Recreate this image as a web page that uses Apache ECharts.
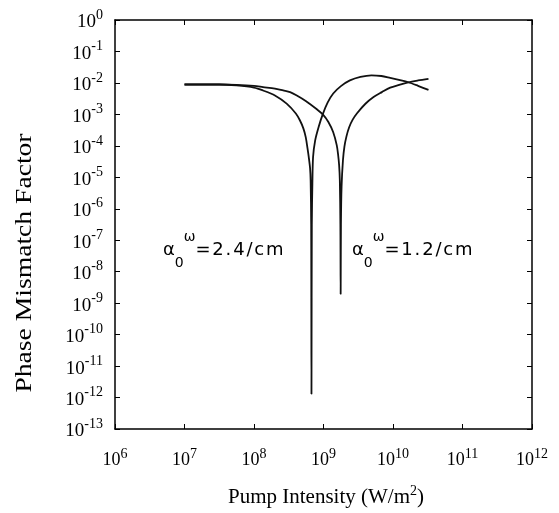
<!DOCTYPE html>
<html>
<head>
<meta charset="utf-8">
<script src="https://cdn.jsdelivr.net/npm/echarts@6/dist/echarts.min.js"></script>
<style>
  html, body { margin: 0; padding: 0; background: #fff; }
  #chart { width: 559px; height: 513px; }
</style>
</head>
<body>
<div id="chart"></div>
<script>
// Pump intensity (W/m^2) and phase mismatch factor for alpha0 = 2.4/cm
const intensityA = [1.0e7, 3.16e7, 5.6e7, 1.0e8, 1.35e8, 2.0e8, 2.95e8, 4.0e8, 4.57e8, 5.13e8,
  5.56e8, 5.89e8, 6.17e8, 6.41e8, 6.53e8, 6.65e8, 6.714e8, 6.79e8, 6.92e8, 7.08e8, 7.59e8,
  8.51e8, 9.77e8, 1.15e9, 1.38e9, 1.78e9, 2.4e9, 3.4e9, 4.9e9, 6.8e9, 9.1e9, 1.26e10,
  1.66e10, 2.29e10, 3.24e10];
const mismatchA = [8.9e-3, 8.9e-3, 8.3e-3, 7.1e-3, 5.75e-3, 4.0e-3, 2.2e-3, 1.07e-3, 6.5e-4, 3.6e-4,
  1.86e-4, 8.3e-5, 4.0e-5, 1.95e-5, 7.9e-6, 3.2e-7, 1.3e-12, 3.2e-7, 6.3e-6, 4.4e-5, 1.5e-4,
  4.0e-4, 1.02e-3, 2.4e-3, 4.6e-3, 7.9e-3, 1.2e-2, 1.55e-2, 1.74e-2, 1.66e-2, 1.45e-2, 1.23e-2,
  1.05e-2, 8.1e-3, 6.0e-3];

// Same quantities for alpha0 = 1.2/cm
const intensityB = [1.0e7, 3.16e7, 5.6e7, 1.0e8, 1.35e8, 2.0e8, 2.63e8, 3.31e8, 4.07e8, 5.62e8,
  7.94e8, 9.77e8, 1.175e9, 1.38e9, 1.55e9, 1.62e9, 1.679e9, 1.718e9, 1.750e9, 1.766e9, 1.782e9,
  1.82e9, 1.905e9, 2.0e9, 2.14e9, 2.34e9, 2.63e9, 3.02e9, 3.98e9, 5.25e9, 6.92e9, 9.12e9,
  1.23e10, 1.66e10, 2.29e10, 3.24e10];
const mismatchB = [8.9e-3, 8.9e-3, 8.7e-3, 8.1e-3, 7.4e-3, 6.6e-3, 5.75e-3, 5.1e-3, 4.07e-3, 2.63e-3,
  1.48e-3, 1.0e-3, 5.75e-4, 2.7e-4, 1.05e-4, 5.4e-5, 2.4e-5, 7.9e-6, 3.2e-7, 1.95e-9, 3.2e-7,
  5.0e-6, 3.47e-5, 9.5e-5, 2.0e-4, 3.9e-4, 6.8e-4, 1.07e-3, 2.14e-3, 3.55e-3, 5.1e-3, 7.1e-3,
  8.7e-3, 1.05e-2, 1.2e-2, 1.35e-2];

// Decade tick exponents
const xTickExponents = [6, 7, 8, 9, 10, 11, 12];
const yTickExponents = [0, -1, -2, -3, -4, -5, -6, -7, -8, -9, -10, -11, -12, -13];

const serif = '"Liberation Serif", "Times New Roman", serif';
const sans = '"DejaVu Sans", "Liberation Sans", sans-serif';
const hair = '\u200A';

function decadeLabel(exps) {
  return function (v) {
    const e = Math.round(Math.log10(v));
    if (exps.indexOf(e) < 0) return '';
    return '{b|10}{e|' + e + '}';
  };
}

// spread the characters of a label slightly apart
function spaced(s) { return s.split('').join(hair); }

const xLabelRich = {
  b: { fontFamily: serif, fontSize: 18, color: '#000', lineHeight: 22, verticalAlign: 'bottom' },
  e: { fontFamily: serif, fontSize: 14, color: '#000', lineHeight: 8, verticalAlign: 'top' }
};
const yLabelRich = {
  b: { fontFamily: serif, fontSize: 19, color: '#000', lineHeight: 24, verticalAlign: 'bottom' },
  e: { fontFamily: serif, fontSize: 14, color: '#000', lineHeight: 6, verticalAlign: 'top' }
};

const frameLine = { show: true, lineStyle: { color: '#000', width: 1.5 } };
const innerTick = { show: true, inside: true, length: 5, lineStyle: { color: '#000', width: 1 } };

function pairs(xs, ys) { return xs.map((x, i) => [x, ys[i]]); }

const chart = echarts.init(document.getElementById('chart'));

const alphaRich = {
  a: { fontFamily: sans, fontSize: 18, color: '#000', lineHeight: 40 },
  sub: { fontFamily: sans, fontSize: 14, color: '#000', lineHeight: 18, verticalAlign: 'bottom' },
  sup: { fontFamily: sans, fontSize: 14, color: '#000', lineHeight: 8, verticalAlign: 'top' },
  t: { fontFamily: sans, fontSize: 18, color: '#000', lineHeight: 40 }
};

const curveStyle = { color: '#111', width: 1.8 };

chart.setOption({
  animation: false,
  backgroundColor: '#fff',
  grid: { left: 115, right: 27, top: 20, bottom: 84, containLabel: false },
  xAxis: [
    {
      type: 'log', logBase: 10, min: 1e6, max: 1e12, interval: 1,
      axisLine: frameLine, axisTick: innerTick, splitLine: { show: false },
      axisLabel: { margin: 18, formatter: decadeLabel(xTickExponents), rich: xLabelRich }
    },
    {
      type: 'log', logBase: 10, min: 1e6, max: 1e12, interval: 1, position: 'top',
      axisLine: frameLine, axisTick: innerTick, splitLine: { show: false },
      axisLabel: { show: false }
    }
  ],
  yAxis: [
    {
      type: 'log', logBase: 10, min: 1e-13, max: 1, interval: 1,
      axisLine: frameLine, axisTick: innerTick, splitLine: { show: false },
      axisLabel: { margin: 12, formatter: decadeLabel(yTickExponents), rich: yLabelRich }
    },
    {
      type: 'log', logBase: 10, min: 1e-13, max: 1, interval: 1, position: 'right',
      axisLine: frameLine, axisTick: innerTick, splitLine: { show: false },
      axisLabel: { show: false }
    }
  ],
  series: [
    {
      name: 'alpha 2.4/cm', type: 'line', xAxisIndex: 0, yAxisIndex: 0,
      data: pairs(intensityA, mismatchA), showSymbol: false, smooth: 0.3,
      lineStyle: curveStyle
    },
    {
      name: 'alpha 1.2/cm', type: 'line', xAxisIndex: 0, yAxisIndex: 0,
      data: pairs(intensityB, mismatchB), showSymbol: false, smooth: 0.3,
      lineStyle: curveStyle
    }
  ],
  graphic: [
    {
      type: 'text', x: 25, y: 263, rotation: Math.PI / 2, scaleX: 1.15,
      style: { text: 'Phase Mismatch Factor', font: '24px ' + serif, fill: '#000',
        align: 'center', verticalAlign: 'middle' }
    },
    {
      type: 'text', x: 326, y: 497,
      style: {
        text: '{n|Pump Intensity (W/m}{s|2}{n|)}', align: 'center', verticalAlign: 'middle',
        rich: {
          n: { fontFamily: serif, fontSize: 21, color: '#000', lineHeight: 26 },
          s: { fontFamily: serif, fontSize: 14, color: '#000', lineHeight: 10, verticalAlign: 'top' }
        }
      }
    },
    {
      type: 'text', x: 163, y: 250,
      style: { text: '{a|α}{sub|0}{sup|ω}{t|' + spaced('=2.4/cm') + '}', align: 'left',
        verticalAlign: 'middle', rich: alphaRich }
    },
    {
      type: 'text', x: 352, y: 250,
      style: { text: '{a|α}{sub|0}{sup|ω}{t|' + spaced('=1.2/cm') + '}', align: 'left',
        verticalAlign: 'middle', rich: alphaRich }
    }
  ]
});
</script>
</body>
</html>
